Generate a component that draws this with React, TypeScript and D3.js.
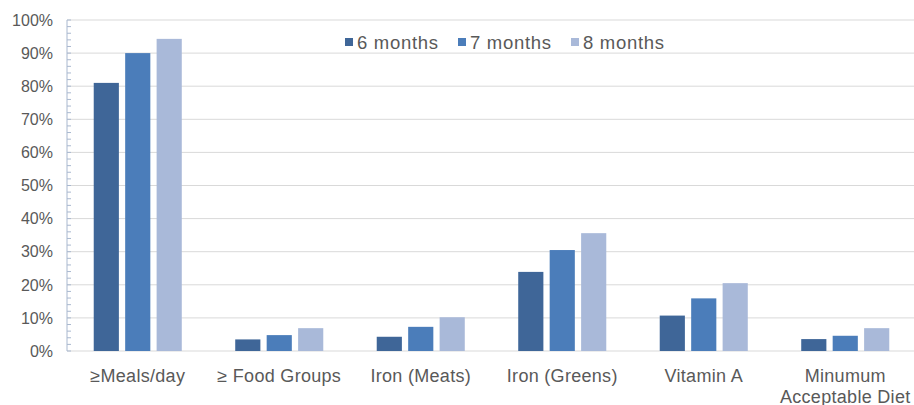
import React from "react";
import * as d3 from "d3";

const categories: string[][] = [
  ["≥Meals/day"],
  ["≥ Food Groups"],
  ["Iron (Meats)"],
  ["Iron (Greens)"],
  ["Vitamin A"],
  ["Minumum", "Acceptable Diet"],
];
const seriesNames = ["6 months", "7 months", "8 months"];
const months6 = [0.81, 0.035, 0.043, 0.239, 0.107, 0.036];
const months7 = [0.9, 0.048, 0.073, 0.305, 0.159, 0.046];
const months8 = [0.943, 0.069, 0.102, 0.356, 0.205, 0.069];
const yTicks = [0, 0.1, 0.2, 0.3, 0.4, 0.5, 0.6, 0.7, 0.8, 0.9, 1.0];
const colors = ["#3F6698", "#4B7DBA", "#A9B9D9"];

const W = 914;
const H = 405;
const left = 67;
const right = 916;
const top = 20;
const bottom = 351;

export default function App() {
  const series = [months6, months7, months8];
  const x0 = d3
    .scaleBand<number>()
    .domain(categories.map((_, i) => i))
    .range([left, right])
    .paddingInner(0)
    .paddingOuter(0);
  const x1 = d3
    .scaleBand<number>()
    .domain([0, 1, 2])
    .range([0, x0.bandwidth()])
    .paddingInner(0.2)
    .paddingOuter(0.85);
  const y = d3.scaleLinear().domain([0, 1]).range([bottom, top]);
  const minor = d3.range(0, 1.0001, 0.02);
  const textColor = "#595959";
  const font = "'Liberation Sans', Arial, sans-serif";

  return (
    <svg
      width={W}
      height={H}
      style={{ position: "absolute", left: 0, top: 0, background: "#fff" }}
      fontFamily={font}
    >
      {yTicks.map((t) => (
        <g key={t}>
          <line x1={left} x2={W} y1={y(t)} y2={y(t)} stroke="#D9D9D9" strokeWidth={1} />
          <text x={53} y={y(t)} dy="0.36em" textAnchor="end" fontSize={16} fill={textColor}>
            {d3.format(".0%")(t)}
          </text>
        </g>
      ))}
      <line x1={left} x2={left} y1={top} y2={bottom} stroke="#A9B8CF" strokeWidth={1} />
      {minor.map((m, i) => (
        <line key={i} x1={left} x2={left + 4} y1={y(m)} y2={y(m)} stroke="#A9B8CF" strokeWidth={1} />
      ))}
      {categories.map((_, ci) => (
        <g key={ci} transform={`translate(${x0(ci)},0)`}>
          {series.map((s, si) => (
            <rect
              key={si}
              x={x1(si)}
              width={x1.bandwidth()}
              y={y(s[ci])}
              height={bottom - y(s[ci])}
              fill={colors[si]}
            />
          ))}
        </g>
      ))}
      {categories.map((lines, ci) => (
        <text
          key={ci}
          x={(x0(ci) as number) + x0.bandwidth() / 2}
          y={382}
          textAnchor="middle"
          fontSize={18}
          letterSpacing={0.3}
          fill={textColor}
        >
          {lines.map((l, li) => (
            <tspan key={li} x={(x0(ci) as number) + x0.bandwidth() / 2} dy={li === 0 ? 0 : 21}>
              {l}
            </tspan>
          ))}
        </text>
      ))}
      {seriesNames.map((n, i) => (
        <g key={n} transform={`translate(${345 + i * 113},42)`}>
          <rect x={0} y={-4} width={8} height={8} fill={colors[i]} />
          <text x={12} y={0} dy="0.36em" fontSize={18.5} letterSpacing={0.7} fill={textColor}>
            {n}
          </text>
        </g>
      ))}
    </svg>
  );
}
